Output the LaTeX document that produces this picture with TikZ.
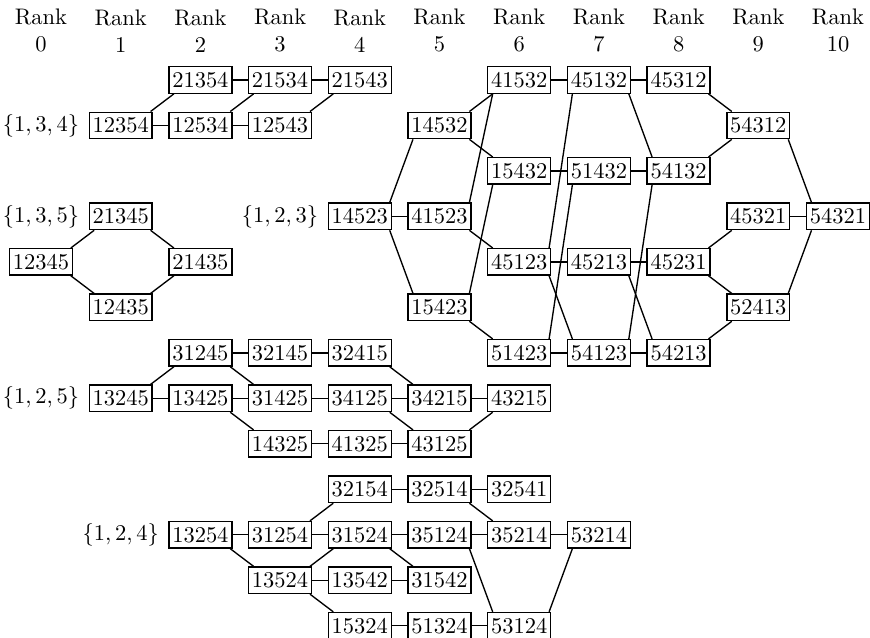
\documentclass[tikz,border=0pt]{standalone}
\usepackage{tikz}

\tikzset{
  perm/.style={draw, inner xsep=1.5pt, inner ysep=2.4pt},
  rankhead/.style={align=center},
}

\begin{document}
\begin{tikzpicture}[x=1.246cm, y=-0.711cm, line width=0.6pt]
  \useasboundingbox (-0.514,-1.758) rectangle (10.401,12.264);
  % rank headings
  \foreach \k in {0,...,10}
    \node[rankhead] (rank\k) at (\k,-1.08) {Rank\\\k};
  % set labels
  \node (s134) at (0,1) {$\{1,3,4\}$};
  \node (s135) at (0,3) {$\{1,3,5\}$};
  \node (s123) at (3,3) {$\{1,2,3\}$};
  \node (s125) at (0,7) {$\{1,2,5\}$};
  \node (s124) at (1,10) {$\{1,2,4\}$};
  % permutations: word/rank/row
  \foreach \p/\c/\r in {
    21354/2/0, 21534/3/0, 21543/4/0, 12354/1/1, 12534/2/1, 12543/3/1,
    21345/1/3, 12345/0/4, 21435/2/4, 12435/1/5,
    14523/4/3, 14532/5/1, 41523/5/3, 15423/5/5,
    41532/6/0, 15432/6/2, 45123/6/4, 51423/6/6,
    45132/7/0, 51432/7/2, 45213/7/4, 54123/7/6,
    45312/8/0, 54132/8/2, 45231/8/4, 54213/8/6,
    54312/9/1, 45321/9/3, 52413/9/5, 54321/10/3,
    31245/2/6, 32145/3/6, 32415/4/6,
    13245/1/7, 13425/2/7, 31425/3/7, 34125/4/7, 34215/5/7, 43215/6/7,
    14325/3/8, 41325/4/8, 43125/5/8,
    32154/4/9, 32514/5/9, 32541/6/9,
    13254/2/10, 31254/3/10, 31524/4/10, 35124/5/10, 35214/6/10, 53214/7/10,
    13524/3/11, 13542/4/11, 31542/5/11,
    15324/4/12, 51324/5/12, 53124/6/12}
    \node[perm] (p\p) at (\c,\r) {\p};
  % edges along a row
  \foreach \a/\b in {
    21354/21534, 21534/21543, 12354/12534, 12534/12543,
    14523/41523, 41532/45132, 45132/45312, 15432/51432, 51432/54132,
    45123/45213, 45213/45231, 51423/54123, 54123/54213, 45321/54321,
    31245/32145, 32145/32415, 13245/13425, 13425/31425, 31425/34125,
    34125/34215, 34215/43215, 14325/41325, 41325/43125,
    32154/32514, 32514/32541, 13254/31254, 31254/31524, 31524/35124,
    35124/35214, 35214/53214, 13524/13542, 13542/31542,
    15324/51324, 51324/53124}
    \draw (p\a.east) -- (p\b.west);
  % edges going up
  \foreach \a/\b in {
    12354/21354, 12534/21534, 12543/21543, 12345/21345, 12435/21435,
    14523/14532, 41523/41532, 14532/41532, 15423/15432, 45123/45132,
    51423/51432, 54123/54132, 54132/54312, 45231/45321, 54213/52413,
    52413/54321, 13245/31245, 43125/43215, 31254/32154, 13524/31524,
    53124/53214}
    \draw ([xshift=-1pt]p\a.north east) -- ([xshift=2.5pt]p\b.south west);
  % edges going down
  \foreach \a/\b in {
    12345/12435, 21345/21435, 14523/15423, 14532/15432, 41523/45123,
    15423/51423, 45132/54132, 45213/54213, 45123/54123, 45312/54312,
    45231/52413, 54312/54321, 31245/31425, 13425/14325, 32415/34215,
    34125/43125, 13254/13524, 31524/31542, 32514/35214, 35124/53124,
    13524/15324}
    \draw ([xshift=-1pt]p\a.south east) -- ([xshift=2.5pt]p\b.north west);
\end{tikzpicture}
\end{document}
